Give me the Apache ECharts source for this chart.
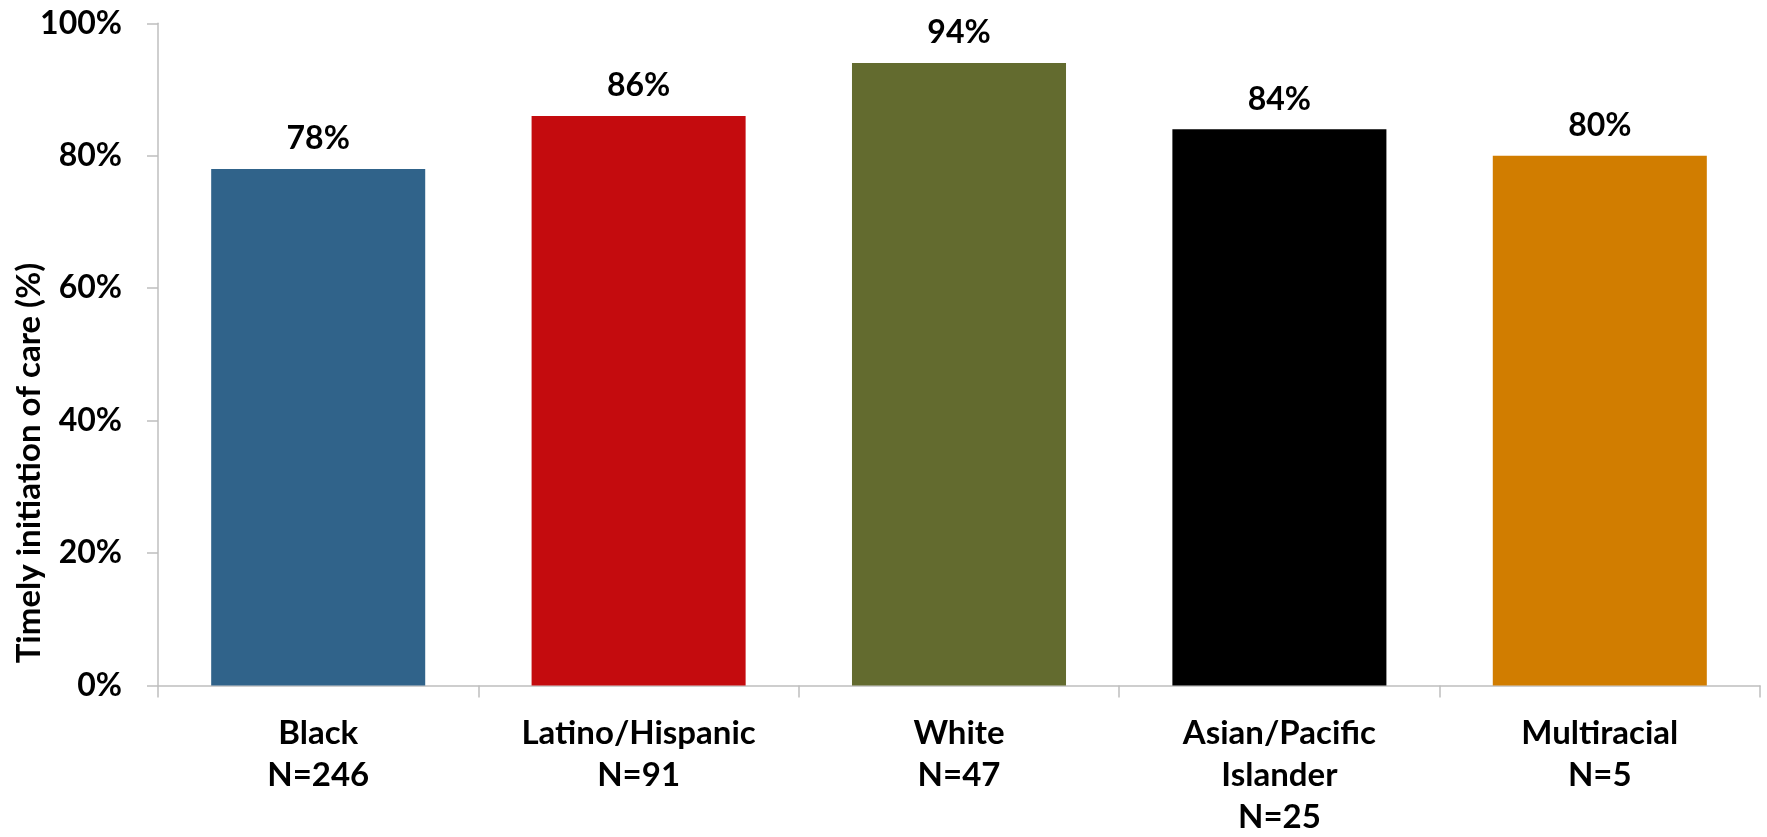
<!DOCTYPE html>
<html>
<head>
<meta charset="utf-8">
<script src="https://cdn.jsdelivr.net/npm/echarts@6/dist/echarts.min.js"></script>
<style>
  html, body { margin: 0; padding: 0; background: #ffffff; }
  #chart { width: 1767px; height: 837px; }
</style>
</head>
<body>
<div id="chart"></div>
<script>
// Timely initiation of care by race/ethnicity
const groups = ['Black', 'Latino/Hispanic', 'White', 'Asian/Pacific\nIslander', 'Multiracial'];
const sampleSizes = [246, 91, 47, 25, 5];
const timelyPct = [78, 86, 94, 84, 80];
const barColors = ['#30638A', '#C40B0E', '#636B2F', '#000000', '#D17D00'];
const yTicks = [0, 20, 40, 60, 80, 100];

const FONT = 'Lato, "Open Sans", sans-serif';
const AXIS_GREY = '#BFBFBF';

const categories = groups.map((g, i) => g + '\nN=' + sampleSizes[i]);

const chart = echarts.init(document.getElementById('chart'), null, { renderer: 'canvas' });

chart.setOption({
  animation: false,
  backgroundColor: '#ffffff',
  grid: {
    left: 158, right: 7, top: 23.3, bottom: 151.5,
    containLabel: false,
    outerBoundsMode: 'none'
  },
  xAxis: {
    type: 'category',
    data: categories,
    axisLine: { show: true, lineStyle: { color: AXIS_GREY, width: 1.5 } },
    axisTick: { show: true, length: 12, lineStyle: { color: AXIS_GREY, width: 1.5 } },
    axisLabel: {
      interval: 0,
      margin: 27,
      color: '#000000',
      fontFamily: FONT,
      fontWeight: 'bold',
      fontSize: 33,
      lineHeight: 42
    }
  },
  yAxis: {
    type: 'value',
    min: yTicks[0],
    max: yTicks[yTicks.length - 1],
    interval: yTicks[1] - yTicks[0],
    splitLine: { show: false },
    axisLine: { show: true, lineStyle: { color: AXIS_GREY, width: 1.5 } },
    axisTick: { show: true, length: 11, lineStyle: { color: AXIS_GREY, width: 1.5 } },
    axisLabel: {
      margin: 36,
      color: '#000000',
      fontFamily: FONT,
      fontWeight: 'bold',
      fontSize: 32,
      formatter: '{value}%'
    }
  },
  graphic: [{
    type: 'text',
    x: 29,
    y: 463,
    rotation: Math.PI / 2,
    style: {
      text: 'Timely initiation of care (%)',
      fontFamily: FONT,
      fontWeight: 'bold',
      fontSize: 33,
      fill: '#000000',
      align: 'center',
      verticalAlign: 'middle'
    }
  }],
  series: [{
    type: 'bar',
    barWidth: '66.8%',
    data: timelyPct.map((v, i) => ({ value: v, itemStyle: { color: barColors[i] } })),
    label: {
      show: true,
      position: 'top',
      distance: 14,
      color: '#000000',
      fontFamily: FONT,
      fontWeight: 'bold',
      fontSize: 32,
      formatter: '{c}%'
    }
  }]
});
</script>
</body>
</html>
